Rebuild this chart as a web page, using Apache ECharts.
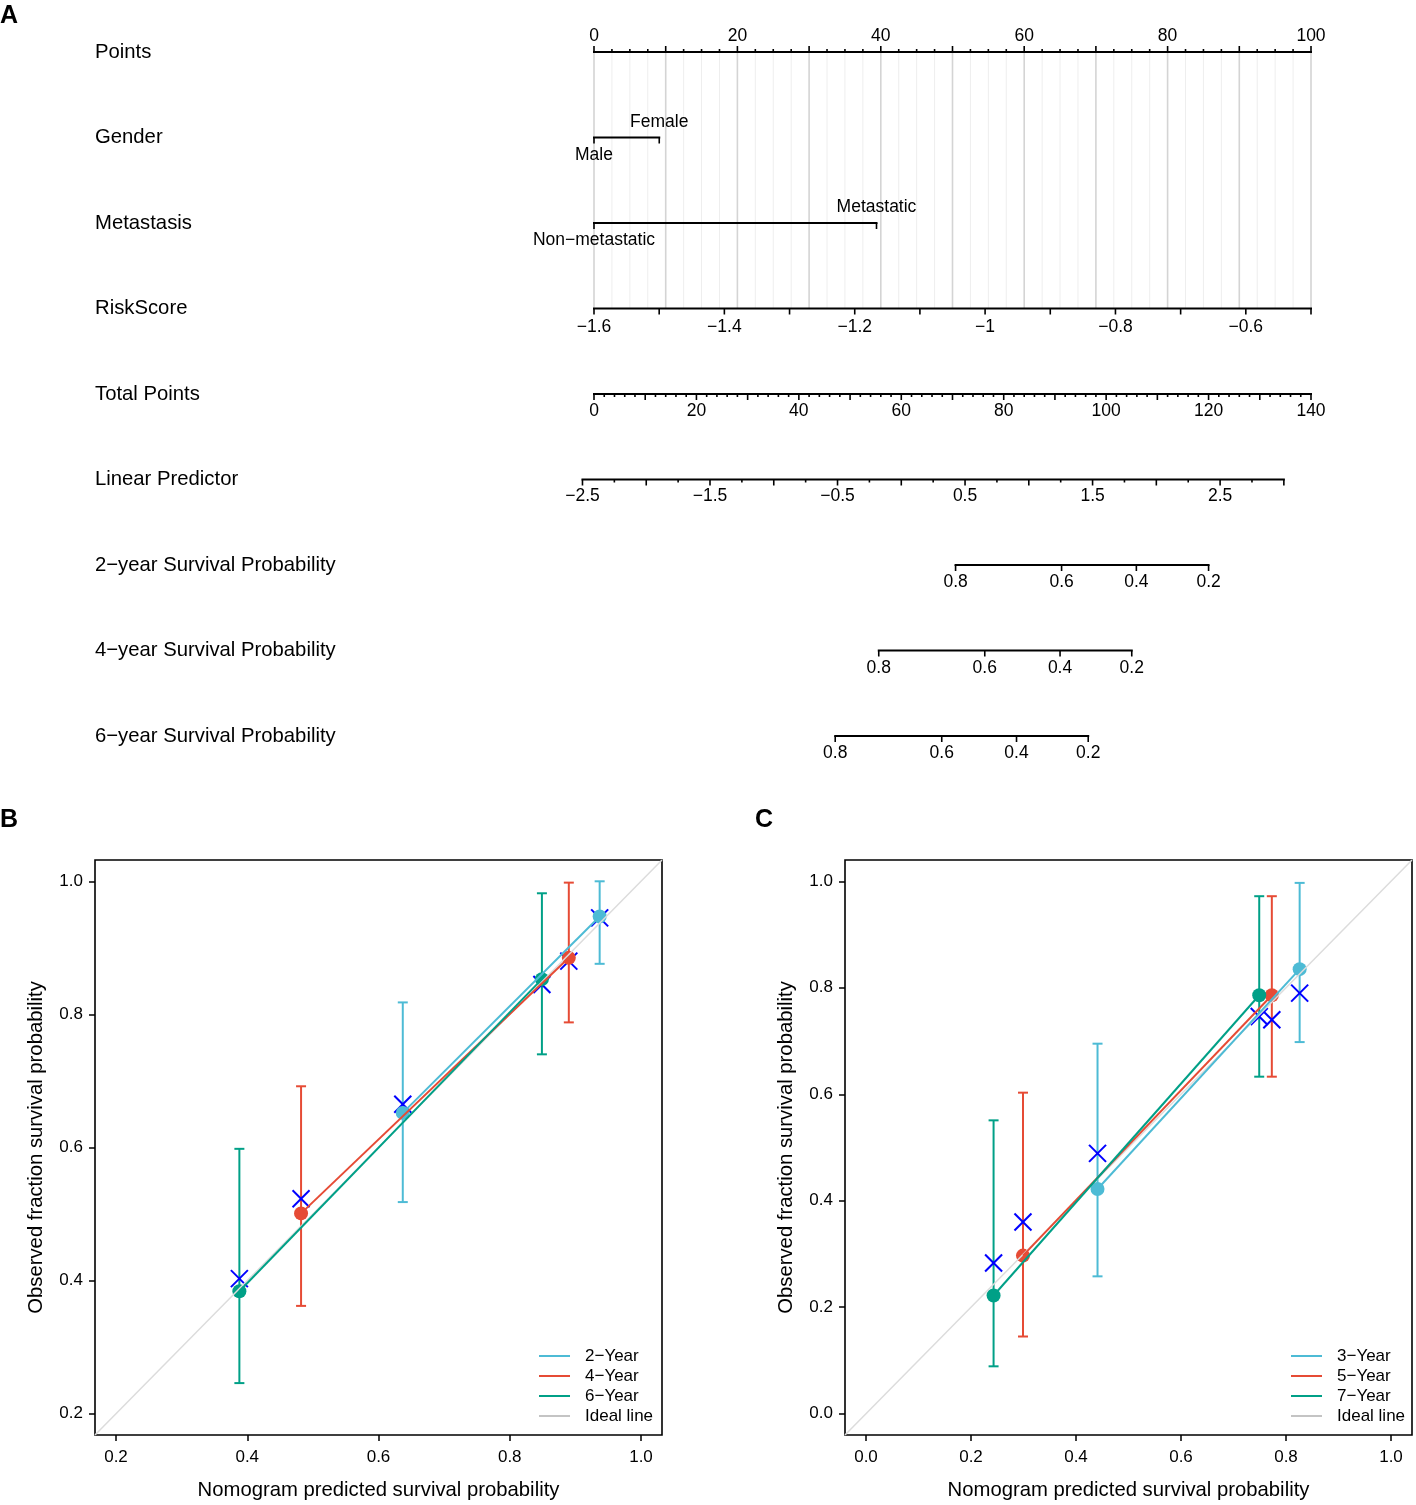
<!DOCTYPE html>
<html><head><meta charset="utf-8">
<script src="https://cdn.jsdelivr.net/npm/echarts@6/dist/echarts.min.js"></script>
<style>html,body{margin:0;padding:0;background:#fff}#c{width:1416px;height:1505px}</style>
</head><body><div id="c"></div>
<script>
const M = '\u2212';
const FONT = '"Liberation Sans", Arial, Helvetica, sans-serif';

// ---------- Panel A: nomogram ----------
const rowNames = ['Points', 'Gender', 'Metastasis', 'RiskScore', 'Total Points', 'Linear Predictor',
  '2' + M + 'year Survival Probability', '4' + M + 'year Survival Probability', '6' + M + 'year Survival Probability'];
const pointsLabels = [0, 20, 40, 60, 80, 100];
const genderLevels = ['Male', 'Female'];
const genderPoints = [0, 9.1];
const metastasisLevels = ['Non' + M + 'metastatic', 'Metastatic'];
const metastasisPoints = [0, 39.4];
const riskLabels = [-1.6, -1.4, -1.2, -1.0, -0.8, -0.6];
const riskRange = [-1.6, -0.5];          // spans 0..100 points
const totalLabels = [0, 20, 40, 60, 80, 100, 120, 140];
const lpLabels = [-2.5, -1.5, -0.5, 0.5, 1.5, 2.5];
const lpRange = [-2.5, 3.0];
const lpTotalAtZero = 60.0;               // total points where linear predictor = 0
const lpTotalPerUnit = 24.9;              // total points per unit of linear predictor
const survProbs = [0.8, 0.6, 0.4, 0.2];
const surv2Total = [70.6, 91.3, 105.9, 120.0];
const surv4Total = [55.6, 76.3, 91.0, 105.0];
const surv6Total = [47.1, 67.9, 82.5, 96.5];
const maxPoints = 100, maxTotal = 140;

// ---------- Panel B ----------
const bAxis = [0.168, 1.032];
const bTicks = [0.2, 0.4, 0.6, 0.8, 1.0];
const bNames = ['2' + M + 'Year', '4' + M + 'Year', '6' + M + 'Year'];
const bPred2 = [0.637, 0.937], bObs2 = [0.652, 0.947], bLo2 = [0.518, 0.876], bHi2 = [0.818, 1.000], bCorr2 = [0.665, 0.945];
const bPred4 = [0.482, 0.890], bObs4 = [0.501, 0.885], bLo4 = [0.362, 0.788], bHi4 = [0.692, 0.998], bCorr4 = [0.523, 0.880];
const bPred6 = [0.388, 0.849], bObs6 = [0.384, 0.853], bLo6 = [0.246, 0.740], bHi6 = [0.598, 0.982], bCorr6 = [0.403, 0.845];

// ---------- Panel C ----------
const cAxis = [-0.04, 1.04];
const cTicks = [0.0, 0.2, 0.4, 0.6, 0.8, 1.0];
const cNames = ['3' + M + 'Year', '5' + M + 'Year', '7' + M + 'Year'];
const cPred3 = [0.441, 0.826], cObs3 = [0.422, 0.835], cLo3 = [0.258, 0.698], cHi3 = [0.695, 0.997], cCorr3 = [0.489, 0.790];
const cPred5 = [0.299, 0.773], cObs5 = [0.297, 0.786], cLo5 = [0.145, 0.633], cHi5 = [0.603, 0.972], cCorr5 = [0.360, 0.740];
const cPred7 = [0.243, 0.749], cObs7 = [0.222, 0.786], cLo7 = [0.089, 0.633], cHi7 = [0.551, 0.972], cCorr7 = [0.283, 0.746];

const COLORS = ['#4DBBD5', '#E64B35', '#00A087'];
const CROSS = '#0000FF';
const IDEAL = '#dcdcdc';
const IDEAL_LEGEND = '#c4c4c4';

// ---------- helpers ----------
const fmt = v => String(v).replace('-', M);
const riskToPts = r => (r - riskRange[0]) / (riskRange[1] - riskRange[0]) * maxPoints;
const totToPts = t => t / maxTotal * maxPoints;
const lpToPts = l => totToPts(lpTotalAtZero + l * lpTotalPerUnit);
const near = (a, b) => Math.abs(a - b) < 1e-6;
const isMult = (v, s) => near(Math.round(v / s) * s, v);

function rowSeries(row, build) {
  return {
    type: 'custom', coordinateSystem: 'cartesian2d', xAxisIndex: 0, yAxisIndex: 0, silent: true,
    data: [[0, row]], encode: { x: 0, y: 1 },
    renderItem: function (params, api) {
      const X = v => api.coord([v, row])[0];
      const Y = api.coord([0, row])[1];
      const kids = [];
      const h = {
        X, Y, api,
        line(a, b) {
          kids.push({ type: 'line', shape: { x1: X(a), y1: Y, x2: X(b), y2: Y },
            style: { stroke: '#000', lineWidth: 2, lineCap: 'square' } });
        },
        tick(v, len) {
          kids.push({ type: 'line', shape: { x1: X(v), y1: Y, x2: X(v), y2: Y + len },
            style: { stroke: '#000', lineWidth: 1.6 } });
        },
        label(v, txt, dy) {
          kids.push({ type: 'text', style: { x: X(v), y: Y + dy, text: txt, fill: '#000',
            font: '17.5px ' + FONT, align: 'center', verticalAlign: 'middle',
            textAlign: 'center', textVerticalAlign: 'middle' } });
        },
        raw(el) { kids.push(el); }
      };
      build(h);
      return { type: 'group', children: kids };
    }
  };
}

const nomoSeries = [];
// Points row (with vertical reference lines down to RiskScore)
nomoSeries.push(rowSeries(0, h => {
  const yBottom = h.api.coord([0, 3])[1];
  for (let v = 0; v <= maxPoints + 1e-9; v += 2.5) {
    const major = isMult(v, 10);
    h.raw({ type: 'line', shape: { x1: h.X(v), y1: h.Y, x2: h.X(v), y2: yBottom },
      style: { stroke: major ? '#d4d4d4' : '#eeeeee', lineWidth: major ? 1.6 : 1 } });
  }
  h.line(0, maxPoints);
  for (let v = 0; v <= maxPoints + 1e-9; v += 2.5) h.tick(v, isMult(v, 10) ? -6 : -3);
  pointsLabels.forEach(v => h.label(v, fmt(v), -16));
}));
// Categorical rows
[[1, genderLevels, genderPoints], [2, metastasisLevels, metastasisPoints]].forEach(([row, lv, pts]) => {
  nomoSeries.push(rowSeries(row, h => {
    h.line(Math.min(...pts), Math.max(...pts));
    pts.forEach((p, i) => {
      h.tick(p, 6);
      h.label(p, lv[i], i % 2 === 0 ? 17.5 : -15.5);
    });
  }));
});
// RiskScore
nomoSeries.push(rowSeries(3, h => {
  h.line(riskToPts(riskRange[0]), riskToPts(riskRange[1]));
  for (let r = riskRange[0]; r <= riskRange[1] + 1e-9; r += 0.1) h.tick(riskToPts(r), 6);
  riskLabels.forEach(r => h.label(riskToPts(r), fmt(r), 18.5));
}));
// Total Points
nomoSeries.push(rowSeries(4, h => {
  h.line(totToPts(0), totToPts(maxTotal));
  for (let t = 0; t <= maxTotal + 1e-9; t += 2) h.tick(totToPts(t), isMult(t, 10) ? 6 : 3);
  totalLabels.forEach(t => h.label(totToPts(t), fmt(t), 17.5));
}));
// Linear Predictor
nomoSeries.push(rowSeries(5, h => {
  h.line(lpToPts(lpRange[0]), lpToPts(lpRange[1]));
  for (let l = lpRange[0]; l <= lpRange[1] + 1e-9; l += 0.25) h.tick(lpToPts(l), isMult(l, 0.5) ? 6 : 3);
  lpLabels.forEach(l => h.label(lpToPts(l), fmt(l), 17));
}));
// Survival probabilities
[[6, surv2Total], [7, surv4Total], [8, surv6Total]].forEach(([row, tot]) => {
  nomoSeries.push(rowSeries(row, h => {
    h.line(totToPts(Math.min(...tot)), totToPts(Math.max(...tot)));
    tot.forEach((t, i) => {
      h.tick(totToPts(t), 6);
      h.label(totToPts(t), fmt(survProbs[i]), 17.5);
    });
  }));
});

// ---------- calibration helpers ----------
function errorBars(gi, pred, lo, hi, color) {
  return {
    type: 'custom', xAxisIndex: gi, yAxisIndex: gi, silent: true,
    data: pred.map((p, i) => [p, lo[i], hi[i]]), encode: { x: 0, y: [1, 2] },
    renderItem: (params, api) => {
      const x = api.value(0);
      const a = api.coord([x, api.value(1)]), b = api.coord([x, api.value(2)]);
      const st = { stroke: color, lineWidth: 2 };
      return { type: 'group', children: [
        { type: 'line', shape: { x1: a[0], y1: a[1], x2: b[0], y2: b[1] }, style: st },
        { type: 'line', shape: { x1: a[0] - 5, y1: a[1], x2: a[0] + 5, y2: a[1] }, style: st },
        { type: 'line', shape: { x1: b[0] - 5, y1: b[1], x2: b[0] + 5, y2: b[1] }, style: st }
      ] };
    }
  };
}
function crosses(gi, pred, corr) {
  return {
    type: 'custom', xAxisIndex: gi, yAxisIndex: gi, silent: true,
    data: pred.map((p, i) => [p, corr[i]]), encode: { x: 0, y: 1 },
    renderItem: (params, api) => {
      const c = api.coord([api.value(0), api.value(1)]);
      const s = 8.5, st = { stroke: CROSS, lineWidth: 2 };
      return { type: 'group', children: [
        { type: 'line', shape: { x1: c[0] - s, y1: c[1] - s, x2: c[0] + s, y2: c[1] + s }, style: st },
        { type: 'line', shape: { x1: c[0] - s, y1: c[1] + s, x2: c[0] + s, y2: c[1] - s }, style: st }
      ] };
    }
  };
}
function calSeries(gi, names, preds, obs, los, his, corrs, axisRange) {
  const out = [];
  out.push({ type: 'line', name: 'Ideal line', xAxisIndex: gi, yAxisIndex: gi, silent: true,
    data: [[axisRange[0], axisRange[0]], [axisRange[1], axisRange[1]]], showSymbol: false,
    lineStyle: { color: IDEAL, width: 1.5 }, itemStyle: { color: IDEAL_LEGEND } });
  preds.forEach((p, k) => out.push(errorBars(gi, p, los[k], his[k], COLORS[k])));
  preds.forEach((p, k) => out.push({ type: 'line', name: names[k], xAxisIndex: gi, yAxisIndex: gi, silent: true,
    data: p.map((v, i) => [v, obs[k][i]]), showSymbol: false,
    lineStyle: { color: COLORS[k], width: 2 }, itemStyle: { color: COLORS[k] } }));
  preds.forEach((p, k) => out.push(crosses(gi, p, corrs[k])));
  preds.forEach((p, k) => out.push({ type: 'scatter', xAxisIndex: gi, yAxisIndex: gi, silent: true,
    data: p.map((v, i) => [v, obs[k][i]]), symbol: 'circle', symbolSize: 14,
    itemStyle: { color: COLORS[k], opacity: 1 } }));
  return out;
}
function calX(gi, range, ticks) {
  return { type: 'value', gridIndex: gi, min: range[0], max: range[1],
    name: 'Nomogram predicted survival probability', nameLocation: 'middle', nameGap: 45,
    nameTextStyle: { fontSize: 20.3, color: '#000', fontFamily: FONT },
    axisLine: { show: false, onZero: false }, splitLine: { show: false },
    axisTick: { show: true, customValues: ticks, length: 6, lineStyle: { color: '#000', width: 1.5 } },
    axisLabel: { show: true, customValues: ticks, formatter: v => v.toFixed(1), fontSize: 17, color: '#000', fontFamily: FONT, margin: 14 } };
}
function calY(gi, range, ticks) {
  return { type: 'value', gridIndex: gi, min: range[0], max: range[1],
    name: 'Observed fraction survival probability', nameLocation: 'middle', nameGap: 49, nameRotate: 90,
    nameTextStyle: { fontSize: 20.3, color: '#000', fontFamily: FONT },
    axisLine: { show: false, onZero: false }, splitLine: { show: false },
    axisTick: { show: true, customValues: ticks, length: 6, lineStyle: { color: '#000', width: 1.5 } },
    axisLabel: { show: true, customValues: ticks, formatter: v => v.toFixed(1), fontSize: 17, color: '#000', fontFamily: FONT, margin: 12 } };
}
function legendFor(left, names) {
  return { left: left, top: 1346, padding: 0, orient: 'vertical', itemGap: 0, itemWidth: 31, itemHeight: 2, icon: 'rect',
    selectedMode: false,
    textStyle: { fontSize: 17, color: '#000', fontFamily: FONT, lineHeight: 20, padding: [0, 0, 0, 10] },
    data: names.map((n, k) => ({ name: n, itemStyle: { color: COLORS[k] } }))
      .concat([{ name: 'Ideal line', itemStyle: { color: IDEAL_LEGEND } }]) };
}

const chart = echarts.init(document.getElementById('c'), null, { renderer: 'canvas' });
chart.setOption({
  animation: false,
  backgroundColor: '#fff',
  textStyle: { fontFamily: FONT },
  grid: [
    { left: 594, right: 105, top: 52, height: 684 },
    { left: 95, top: 860, width: 567, height: 575, show: true, borderColor: '#000', borderWidth: 1.6, backgroundColor: 'transparent' },
    { left: 845, top: 860, width: 567, height: 575, show: true, borderColor: '#000', borderWidth: 1.6, backgroundColor: 'transparent' }
  ],
  xAxis: [
    { type: 'value', gridIndex: 0, min: 0, max: maxPoints, show: false },
    calX(1, bAxis, bTicks),
    calX(2, cAxis, cTicks)
  ],
  yAxis: [
    { type: 'category', gridIndex: 0, data: rowNames, inverse: true, boundaryGap: false,
      axisLine: { show: false }, axisTick: { show: false }, splitLine: { show: false },
      axisLabel: { align: 'left', margin: 499, fontSize: 20.3, color: '#000', fontFamily: FONT } },
    calY(1, bAxis, bTicks),
    calY(2, cAxis, cTicks)
  ],
  legend: [legendFor(539, bNames), legendFor(1291, cNames)],
  graphic: [
    { type: 'text', left: 0, top: 4, style: { text: 'A', font: 'bold 25px ' + FONT, fill: '#000' } },
    { type: 'text', left: 0, top: 808, style: { text: 'B', font: 'bold 25px ' + FONT, fill: '#000' } },
    { type: 'text', left: 755, top: 808, style: { text: 'C', font: 'bold 25px ' + FONT, fill: '#000' } }
  ],
  series: nomoSeries
    .concat(calSeries(1, bNames, [bPred2, bPred4, bPred6], [bObs2, bObs4, bObs6], [bLo2, bLo4, bLo6], [bHi2, bHi4, bHi6], [bCorr2, bCorr4, bCorr6], bAxis))
    .concat(calSeries(2, cNames, [cPred3, cPred5, cPred7], [cObs3, cObs5, cObs7], [cLo3, cLo5, cLo7], [cHi3, cHi5, cHi7], [cCorr3, cCorr5, cCorr7], cAxis))
});
</script>
</body></html>
